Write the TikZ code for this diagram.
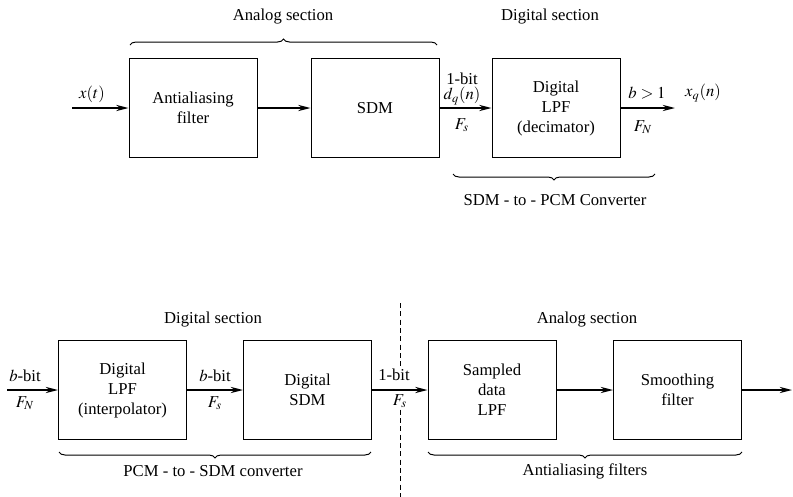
\documentclass[tikz,border=0pt]{standalone}
\usepackage{mathptmx}
\usepackage{fontspec}
\setmainfont{Liberation Serif}
\usetikzlibrary{arrows.meta, positioning, decorations.pathreplacing}

\begin{document}
\begin{tikzpicture}[x=0.6pt, y=-0.6pt, >={Stealth[length=2.6mm, width=1.3mm]}]

        % --- Styles ---
        \tikzset{
            blockBox/.style={draw=black, line width=0.6pt, minimum width=76.8pt, minimum height=59.4pt, align=center, inner sep=2pt},
            sigLine/.style={->, line width=0.9pt},
            braceLine/.style={decorate, decoration={brace, amplitude=3.6pt}, line width=0.6pt},
            sigLabel/.style={inner sep=1pt},
            sectLabel/.style={inner sep=1pt},
            divLine/.style={dashed, line width=0.5pt, dash pattern=on 3pt off 2pt}
        }

        \useasboundingbox (0,0) rectangle (793,497);

        % 1. Blocks (top: SDM A/D)
        \node[blockBox] (aaf) at (193,108) {Antialiasing\\filter};
        \node[blockBox] (sdm) at (375,108) {SDM};
        \node[blockBox] (dec) at (556,108) {Digital\\LPF\\(decimator)};

        % 2. Blocks (bottom: SDM D/A)
        \node[blockBox] (itp) at (122.5,390) {Digital\\LPF\\(interpolator)};
        \node[blockBox] (dsdm) at (307.5,390) {Digital\\SDM};
        \node[blockBox] (sdl) at (492,390) {Sampled\\data\\LPF};
        \node[blockBox] (smf) at (677.5,390) {Smoothing\\filter};

        % 3. Free ends of signal lines
        \coordinate (inA) at (72,108);
        \coordinate (outA) at (675,108);
        \coordinate (inB) at (7,390);
        \coordinate (outB) at (792,390);

        % 4. Signal lines
        \draw[sigLine] (inA) -- (aaf.west);
        \draw[sigLine] (aaf) -- (sdm);
        \draw[sigLine] (sdm) -- (dec);
        \draw[sigLine] (dec.east) -- (outA);
        \draw[sigLine] (inB) -- (itp.west);
        \draw[sigLine] (itp) -- (dsdm);
        \draw[sigLine] (dsdm) -- (sdl);
        \draw[sigLine] (sdl) -- (smf);
        \draw[sigLine] (smf.east) -- (outB);

        % 5. Signal labels (top)
        \node[sigLabel] (xt) at (92,94) {$x(t)$};
        \node[sigLabel] (bitA) at (462,79) {1-bit};
        \node[sigLabel] (dq) at (462,96) {$d_q(n)$};
        \node[sigLabel] (fsA) at (462,125) {$F_s$};
        \node[sigLabel] (bgt) at (647,93) {$b>1$};
        \node[sigLabel] (fnA) at (643,127) {$F_N$};
        \node[sigLabel] (xq) at (703,93) {$x_q(n)$};

        % Signal labels (bottom)
        \node[sigLabel] (bbitA) at (25,376) {$b$-bit};
        \node[sigLabel] (fnB) at (25,403) {$F_N$};
        \node[sigLabel] (bbitB) at (215,376) {$b$-bit};
        \node[sigLabel] (fsB) at (215,403) {$F_s$};
        \node[sigLabel] (bitB) at (394,375) {1-bit};
        \node[sigLabel] (fsC) at (400,401) {$F_s$};

        % 6. Digital / analog divider
        \coordinate (divTop) at (400,303);
        \coordinate (divBot) at (400,497);
        \draw[divLine] (divTop) -- (bitB.north -| divTop);
        \draw[divLine] (fsC.south -| divBot) -- (divBot);

        % 7. Braces and section names
        \draw[braceLine] (130,45) -- (437,45);
        \node[sectLabel] (anaA) at (283,17) {Analog section};
        \node[sectLabel] (digA) at (550,17) {Digital section};
        \draw[braceLine] (655,174) -- (453,174);
        \node[sectLabel] (convA) at (555,200) {SDM - to - PCM Converter};

        \node[sectLabel] (digB) at (213,320) {Digital section};
        \node[sectLabel] (anaB) at (587,320) {Analog section};
        \draw[braceLine] (371,452) -- (59,452);
        \node[sectLabel] (convB) at (213,471) {PCM - to - SDM converter};
        \draw[braceLine] (742,452) -- (428,452);
        \node[sectLabel] (aafB) at (585,471) {Antialiasing filters};

    \end{tikzpicture}
\end{document}
